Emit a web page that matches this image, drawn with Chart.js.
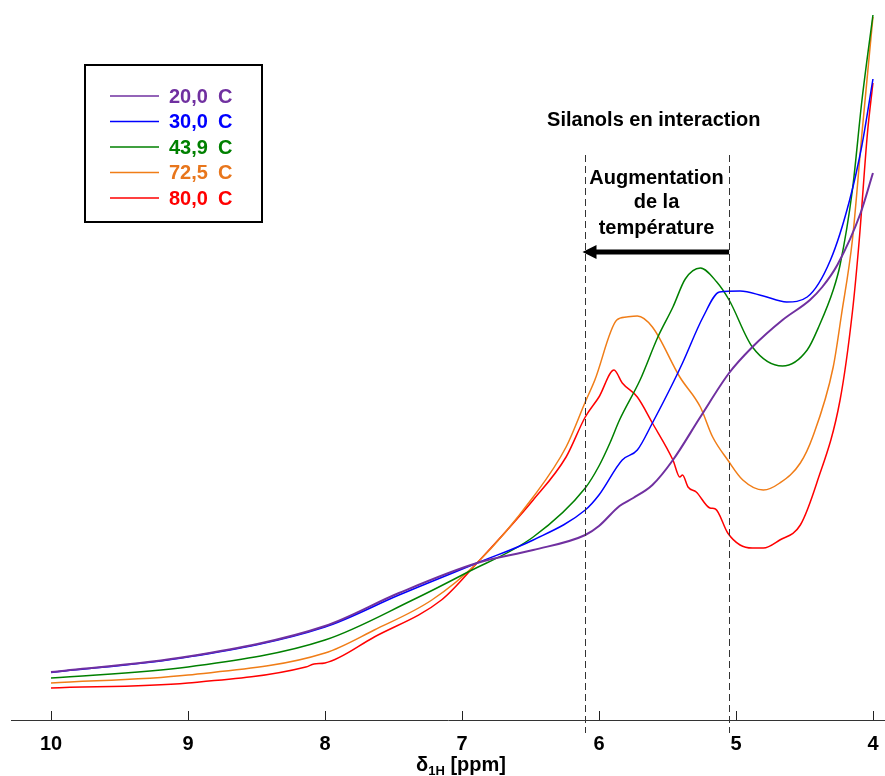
<!DOCTYPE html>
<html>
<head>
<meta charset="utf-8">
<script src="https://cdn.jsdelivr.net/npm/chart.js@4.4.0/dist/chart.umd.min.js"></script>
<style>
  body { margin: 0; background: #fff; }
  canvas { display: block; }
</style>
</head>
<body>
<canvas id="nmr" width="885" height="776"></canvas>
<script>
// chemical shift (ppm) and intensity (a.u.)
const ppm20 = [10.0, 9.0, 8.0, 7.46, 6.89, 6.48, 6.10, 6.00, 5.85, 5.75, 5.61, 5.46, 5.26, 5.05, 4.88, 4.66, 4.46, 4.37, 4.26, 4.09, 4.00];
const int20 = [4.8, 6.35, 9.4, 12.7, 15.7, 17.0, 18.5, 19.4, 21.4, 22.2, 23.5, 26.0, 30.3, 34.7, 37.3, 40.0, 42.0, 43.3, 45.5, 50.7, 54.7];

const ppm30 = [10.0, 9.0, 8.0, 7.46, 6.89, 6.48, 6.10, 6.00, 5.83, 5.72, 5.61, 5.46, 5.39, 5.24, 5.12, 4.97, 4.80, 4.63, 4.48, 4.31, 4.17, 4.08, 4.00];
const int30 = [4.75, 6.3, 9.3, 12.5, 15.7, 18.0, 21.0, 22.5, 26.0, 27.0, 29.7, 33.7, 35.7, 40.3, 42.8, 42.9, 42.4, 41.8, 42.3, 46.0, 52.0, 57.5, 64.1];

const ppm44 = [10.0, 9.0, 8.0, 7.36, 6.97, 6.48, 6.10, 6.00, 5.92, 5.85, 5.70, 5.57, 5.46, 5.37, 5.26, 5.14, 5.05, 4.88, 4.66, 4.48, 4.39, 4.29, 4.24, 4.15, 4.08, 4.00];
const int44 = [4.2, 5.3, 8.0, 12.0, 14.7, 18.3, 23.2, 25.4, 27.7, 30.0, 34.0, 38.3, 41.3, 44.1, 45.2, 43.8, 42.0, 37.3, 35.4, 37.0, 39.5, 43.0, 45.5, 53.0, 62.0, 70.5];

const ppm72 = [10.0, 9.0, 8.0, 7.64, 7.22, 6.89, 6.48, 6.24, 6.10, 6.03, 5.87, 5.80, 5.72, 5.61, 5.41, 5.26, 5.17, 5.06, 4.95, 4.80, 4.68, 4.53, 4.44, 4.29, 4.23, 4.15, 4.08, 4.00];
const int72 = [3.7, 4.5, 6.7, 9.0, 12.0, 15.7, 22.3, 27.3, 31.8, 34.0, 40.0, 40.3, 40.4, 39.3, 34.3, 31.3, 28.3, 26.0, 24.0, 23.0, 23.7, 25.7, 28.3, 35.3, 40.5, 48.0, 58.7, 70.3];

const ppm80 = [10.0, 9.0, 8.14, 8.08, 8.0, 7.64, 7.15, 6.89, 6.48, 6.24, 6.10, 6.00, 5.89, 5.83, 5.72, 5.61, 5.46, 5.41, 5.39, 5.35, 5.29, 5.19, 5.15, 5.06, 4.97, 4.88, 4.80, 4.68, 4.53, 4.41, 4.24, 4.15, 4.10, 4.04, 4.00];
const int80 = [3.2, 3.7, 5.3, 5.6, 5.7, 8.3, 12.0, 15.7, 22.0, 26.3, 30.3, 32.3, 35.0, 33.7, 32.3, 29.7, 26.0, 24.3, 24.5, 23.3, 22.8, 21.2, 21.1, 18.7, 17.5, 17.2, 17.2, 18.0, 19.5, 23.7, 32.0, 40.8, 48.0, 58.7, 63.7];

const labels = ['20,0 C', '30,0 C', '43,9 C', '72,5 C', '80,0 C'];
const xTicks = [10, 9, 8, 7, 6, 5, 4];

// dashed markers bounding the interacting silanol region
const markerPpm = [6.1, 5.05];

const lineColors = ['#7030A0', '#0000FF', '#008000', '#F07D17', '#FF0000'];
const textColors = ['#7030A0', '#0000FF', '#008000', '#E8761C', '#FF0000'];

function toPoints(xs, ys) {
  return xs.map((x, i) => ({ x: x, y: ys[i] }));
}

const series = [
  toPoints(ppm20, int20),
  toPoints(ppm30, int30),
  toPoints(ppm44, int44),
  toPoints(ppm72, int72),
  toPoints(ppm80, int80)
];

const FONT = '"Liberation Sans", Arial, sans-serif';

// ticks pointing up into the plot, axis title, annotations and legend box
const decorations = {
  id: 'decorations',
  afterDraw(chart) {
    const ctx = chart.ctx;
    const xs = chart.scales.x;
    const ys = chart.scales.y;
    const base = chart.chartArea.bottom;

    ctx.save();

    // tick marks
    ctx.strokeStyle = '#222';
    ctx.lineWidth = 1;
    xTicks.forEach(v => {
      const px = Math.round(xs.getPixelForValue(v)) + 0.5;
      ctx.beginPath();
      ctx.moveTo(px, base);
      ctx.lineTo(px, base - 9);
      ctx.stroke();
    });

    // axis title with subscript
    ctx.fillStyle = '#000';
    ctx.textBaseline = 'alphabetic';
    ctx.textAlign = 'left';
    const big = 'bold 20px ' + FONT;
    const small = 'bold 13px ' + FONT;
    ctx.font = big;
    const wD = ctx.measureText('\u03B4').width;
    const wRest = ctx.measureText(' [ppm]').width;
    ctx.font = small;
    const wSub = ctx.measureText('1H').width;
    let tx = 461 - (wD + wSub + wRest) / 2;
    const ty = 771;
    ctx.font = big;
    ctx.fillText('\u03B4', tx, ty);
    tx += wD;
    ctx.font = small;
    ctx.fillText('1H', tx, ty + 4);
    tx += wSub;
    ctx.font = big;
    ctx.fillText(' [ppm]', tx, ty);

    // dashed markers
    ctx.strokeStyle = '#333';
    ctx.setLineDash([7, 4]);
    markerPpm.forEach(v => {
      const px = Math.round(xs.getPixelForValue(v)) + 0.5;
      ctx.beginPath();
      ctx.moveTo(px, ys.getPixelForValue(56.5));
      ctx.lineTo(px, ys.getPixelForValue(-1.3));
      ctx.stroke();
    });
    ctx.setLineDash([]);

    // arrow: temperature increase
    const ay = ys.getPixelForValue(46.8);
    const ax0 = xs.getPixelForValue(markerPpm[1]);
    const ax1 = xs.getPixelForValue(6.12);
    ctx.strokeStyle = '#000';
    ctx.lineWidth = 5;
    ctx.beginPath();
    ctx.moveTo(ax0, ay);
    ctx.lineTo(ax1 + 10, ay);
    ctx.stroke();
    ctx.fillStyle = '#000';
    ctx.beginPath();
    ctx.moveTo(ax1, ay);
    ctx.lineTo(ax1 + 14, ay - 7);
    ctx.lineTo(ax1 + 14, ay + 7);
    ctx.closePath();
    ctx.fill();

    // annotation text
    ctx.font = 'bold 20px ' + FONT;
    ctx.textAlign = 'center';
    ctx.textBaseline = 'middle';
    ctx.fillText('Silanols en interaction', xs.getPixelForValue(5.60), ys.getPixelForValue(60.0));
    const cx = xs.getPixelForValue(5.58);
    ctx.fillText('Augmentation', cx, ys.getPixelForValue(54.2));
    ctx.fillText('de la', cx, ys.getPixelForValue(51.8));
    ctx.fillText('température', cx, ys.getPixelForValue(49.2));

    // legend box
    ctx.strokeStyle = '#000';
    ctx.lineWidth = 2;
    ctx.strokeRect(85, 65, 177, 157);
    ctx.textAlign = 'left';
    chart.data.datasets.forEach((ds, i) => {
      const y = 96 + i * 25.5;
      ctx.strokeStyle = ds.borderColor;
      ctx.lineWidth = 1.5;
      ctx.beginPath();
      ctx.moveTo(110, y);
      ctx.lineTo(159, y);
      ctx.stroke();
      const parts = ds.label.split(' ');
      ctx.fillStyle = textColors[i];
      ctx.fillText(parts[0], 169, y + 1);
      ctx.fillText(parts[1], 218, y + 1);
    });

    ctx.restore();
  }
};

new Chart(document.getElementById('nmr'), {
  type: 'line',
  data: {
    datasets: series.map((pts, i) => ({
      label: labels[i],
      data: pts,
      borderColor: lineColors[i],
      borderWidth: i === 0 ? 2 : 1.5,
      pointRadius: 0,
      fill: false,
      cubicInterpolationMode: 'monotone'
    }))
  },
  options: {
    responsive: false,
    devicePixelRatio: 1,
    animation: false,
    layout: { padding: { left: 11, right: 0, top: 0, bottom: 0 } },
    plugins: { legend: { display: false }, tooltip: { enabled: false } },
    scales: {
      x: {
        type: 'linear',
        reverse: true,
        min: 3.912,
        max: 10.292,
        afterBuildTicks(scale) { scale.ticks = xTicks.map(v => ({ value: v })); },
        afterFit(scale) {
          scale.height = 56;
          scale.paddingLeft = 0;
          scale.paddingRight = 0;
        },
        grid: { display: false, drawTicks: false },
        border: { display: true, color: '#333', width: 1 },
        ticks: {
          color: '#000',
          padding: 12,
          maxRotation: 0,
          font: { family: FONT, size: 20, weight: 'bold' }
        }
      },
      y: {
        display: false,
        min: 0,
        max: 72
      }
    }
  },
  plugins: [decorations]
});
</script>
</body>
</html>
